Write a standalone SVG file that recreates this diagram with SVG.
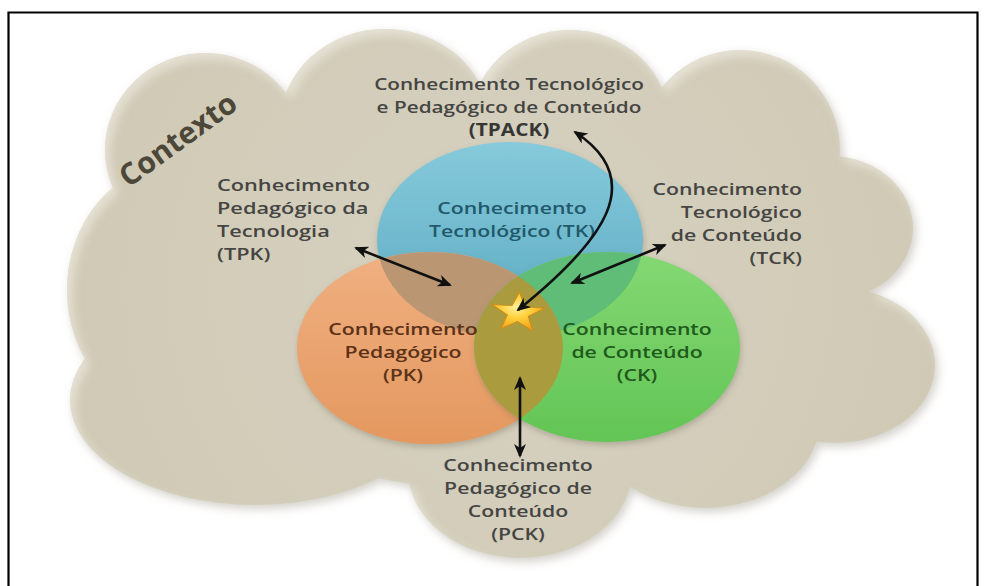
<svg xmlns="http://www.w3.org/2000/svg" width="988" height="586" viewBox="0 0 988 586">
  <defs>
    <style>
      .lbl { font-family: "Open Sans", "Liberation Sans", sans-serif; font-size: 17px; font-weight: 600; fill: #454543; }
      .lbl-b { font-weight: 700; fill: #363634; }
      .tk { fill: #22596a; }
      .pk { fill: #5b3217; }
      .ck { fill: #1f5a1c; }
      .ctx { font-family: "Open Sans", "Liberation Sans", sans-serif; font-size: 30px; font-weight: 700; fill: #4d4739; }
      .conn { fill: none; stroke: #111; stroke-width: 2.6; marker-start: url(#head); marker-end: url(#head); }
      .lobe { fill: url(#cloudFill); }
    </style>
    <radialGradient id="cloudFill" gradientUnits="userSpaceOnUse" cx="500" cy="290" r="470">
      <stop offset="0" stop-color="#d7d2c1"/>
      <stop offset="1" stop-color="#cfc9b4"/>
    </radialGradient>
    <linearGradient id="blueFill" x1="0" y1="0" x2="0" y2="1">
      <stop offset="0" stop-color="#86cadb"/>
      <stop offset="1" stop-color="#5aa9c1"/>
    </linearGradient>
    <linearGradient id="orangeFill" x1="0" y1="0" x2="0" y2="1">
      <stop offset="0" stop-color="#f0b081"/>
      <stop offset="1" stop-color="#e4985f"/>
    </linearGradient>
    <linearGradient id="greenFill" x1="0" y1="0" x2="0" y2="1">
      <stop offset="0" stop-color="#84d873"/>
      <stop offset="1" stop-color="#62c555"/>
    </linearGradient>
    <radialGradient id="starFill" cx="0.45" cy="0.4" r="0.6">
      <stop offset="0" stop-color="#fff09a"/>
      <stop offset="0.5" stop-color="#ffcf3a"/>
      <stop offset="1" stop-color="#f0a31a"/>
    </radialGradient>
    <clipPath id="clipBlue"><ellipse cx="510" cy="240" rx="133" ry="98"/></clipPath>
    <clipPath id="clipOrange"><ellipse cx="430" cy="348" rx="133" ry="96"/></clipPath>
    <filter id="cloudFx" x="-10%" y="-10%" width="120%" height="120%">
      <feGaussianBlur in="SourceAlpha" stdDeviation="5" result="blur"/>
      <feOffset in="blur" dx="3" dy="4" result="sh"/>
      <feFlood flood-color="#9d9889" flood-opacity="0.45"/>
      <feComposite in2="sh" operator="in" result="drop"/>
      <feOffset in="blur" dx="5" dy="6" result="inner"/>
      <feComposite in="SourceAlpha" in2="inner" operator="out" result="rim"/>
      <feFlood flood-color="#f4f1e8" flood-opacity="0.55"/>
      <feComposite in2="rim" operator="in" result="hl"/>
      <feMerge>
        <feMergeNode in="drop"/>
        <feMergeNode in="SourceGraphic"/>
        <feMergeNode in="hl"/>
      </feMerge>
    </filter>
    <filter id="softShadow" x="-10%" y="-10%" width="120%" height="125%">
      <feGaussianBlur in="SourceAlpha" stdDeviation="3"/>
      <feOffset dx="1" dy="3" result="o"/>
      <feFlood flood-color="#6b6656" flood-opacity="0.35"/>
      <feComposite in2="o" operator="in"/>
      <feMerge><feMergeNode/><feMergeNode in="SourceGraphic"/></feMerge>
    </filter>
    <marker id="head" viewBox="0 0 14 12" markerWidth="14" markerHeight="12" refX="12" refY="6" orient="auto-start-reverse" markerUnits="userSpaceOnUse">
      <path d="M0,0 L14,6 L0,12 L4,6 z" fill="#111"/>
    </marker>
  </defs>

  <rect width="988" height="586" fill="#ffffff"/>
  <!-- frame: left, top and right edges -->
  <path d="M8.5,586 V12.5 H977.5 V586" fill="none" stroke="#000" stroke-width="2.2"/>

  <!-- context cloud -->
  <g id="contexto">
    <g filter="url(#cloudFx)">
      <ellipse class="lobe" cx="205" cy="150" rx="100" ry="97"/>
      <ellipse class="lobe" cx="175" cy="290" rx="108" ry="125"/>
      <ellipse class="lobe" cx="385" cy="125" rx="105" ry="96"/>
      <ellipse class="lobe" cx="570" cy="125" rx="100" ry="95"/>
      <ellipse class="lobe" cx="740" cy="150" rx="100" ry="100"/>
      <ellipse class="lobe" cx="830" cy="228" rx="83" ry="72"/>
      <ellipse class="lobe" cx="835" cy="365" rx="100" ry="78"/>
      <ellipse class="lobe" cx="705" cy="420" rx="115" ry="88"/>
      <ellipse class="lobe" cx="520" cy="470" rx="112" ry="88"/>
      <ellipse class="lobe" cx="255" cy="400" rx="185" ry="105"/>
      <ellipse class="lobe" cx="500" cy="290" rx="360" ry="200"/>
    </g>
    <text class="ctx" transform="translate(184,148) rotate(-36)" text-anchor="middle">Contexto</text>
  </g>

  <!-- knowledge circles -->
  <g id="tk">
    <ellipse cx="510" cy="240" rx="133" ry="98" fill="url(#blueFill)" filter="url(#softShadow)"/>
  </g>
  <g id="pk">
    <ellipse cx="430" cy="348" rx="133" ry="96" fill="url(#orangeFill)" filter="url(#softShadow)"/>
    <!-- PK ∩ TK -->
    <ellipse cx="430" cy="348" rx="133" ry="96" fill="#bb9673" clip-path="url(#clipBlue)"/>
  </g>
  <g id="ck">
    <ellipse cx="607" cy="347" rx="133" ry="95" fill="url(#greenFill)" filter="url(#softShadow)"/>
    <!-- CK ∩ TK -->
    <ellipse cx="607" cy="347" rx="133" ry="95" fill="#5fbd78" clip-path="url(#clipBlue)"/>
    <!-- CK ∩ PK -->
    <ellipse cx="607" cy="347" rx="133" ry="95" fill="#aa9b3f" clip-path="url(#clipOrange)"/>
  </g>

  <!-- circle labels -->
  <g id="tk-label" text-anchor="middle" transform="translate(512,0) scale(1.25,1)">
    <text class="lbl tk" x="0" y="214">Conhecimento</text>
    <text class="lbl tk" x="0" y="237">Tecnológico (TK)</text>
  </g>
  <g id="pk-label" text-anchor="middle" transform="translate(403,0) scale(1.25,1)">
    <text class="lbl pk" x="0" y="335">Conhecimento</text>
    <text class="lbl pk" x="0" y="358">Pedagógico</text>
    <text class="lbl pk" x="0" y="381">(PK)</text>
  </g>
  <g id="ck-label" text-anchor="middle" transform="translate(637,0) scale(1.25,1)">
    <text class="lbl ck" x="0" y="335">Conhecimento</text>
    <text class="lbl ck" x="0" y="358">de Conteúdo</text>
    <text class="lbl ck" x="0" y="381">(CK)</text>
  </g>

  <!-- TPACK star -->
  <g id="tpack-star">
    <polygon transform="translate(518,313) rotate(4) scale(1.3,1)" points="0,-21 5,-6.9 20,-6.5 8.1,2.6 12.3,17 0,8.5 -12.3,17 -8.1,2.6 -20,-6.5 -5,-6.9" fill="url(#starFill)" stroke="#d38a12" stroke-width="0.8"/>
  </g>

  <!-- outer labels -->
  <g id="tpack-label" text-anchor="middle" transform="translate(509,0) scale(1.22,1)">
    <text class="lbl" x="0" y="90">Conhecimento Tecnológico</text>
    <text class="lbl" x="0" y="113">e Pedagógico de Conteúdo</text>
    <text class="lbl lbl-b" x="0" y="136">(TPACK)</text>
  </g>
  <g id="tpk-label" text-anchor="start" transform="translate(217,0) scale(1.28,1)">
    <text class="lbl" x="0" y="191">Conhecimento</text>
    <text class="lbl" x="0" y="214">Pedagógico da</text>
    <text class="lbl" x="0" y="237">Tecnologia</text>
    <text class="lbl" x="0" y="260">(TPK)</text>
  </g>
  <g id="tck-label" text-anchor="end" transform="translate(802,0) scale(1.25,1)">
    <text class="lbl" x="0" y="195">Conhecimento</text>
    <text class="lbl" x="0" y="218">Tecnológico</text>
    <text class="lbl" x="0" y="241">de Conteúdo</text>
    <text class="lbl" x="0" y="264">(TCK)</text>
  </g>
  <g id="pck-label" text-anchor="middle" transform="translate(518,0) scale(1.25,1)">
    <text class="lbl" x="0" y="471">Conhecimento</text>
    <text class="lbl" x="0" y="494">Pedagógico de</text>
    <text class="lbl" x="0" y="517">Conteúdo</text>
    <text class="lbl" x="0" y="540">(PCK)</text>
  </g>

  <!-- connectors -->
  <g id="connectors">
    <path class="conn" d="M518,310 C605,240 648,180 575,132"/>
    <path class="conn" d="M356,248 L450,285"/>
    <path class="conn" d="M572,283 L665,245"/>
    <path class="conn" d="M520,378 L520,456"/>
  </g>
</svg>
